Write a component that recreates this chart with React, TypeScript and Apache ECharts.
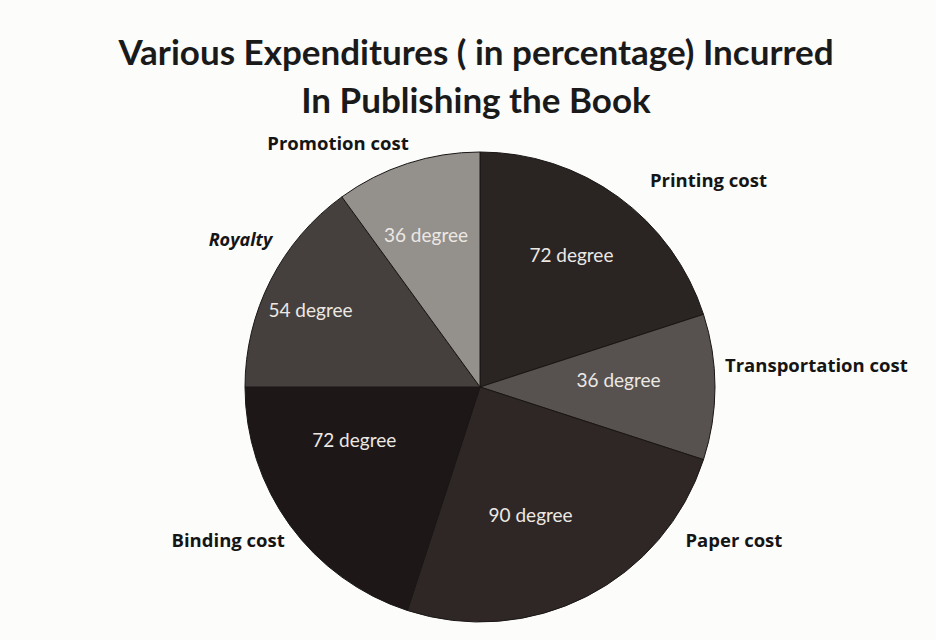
import React, { useEffect, useRef } from "react";
import * as echarts from "echarts";

const categories = [
  "Printing cost",
  "Transportation cost",
  "Paper cost",
  "Binding cost",
  "Royalty",
  "Promotion cost",
];
const degrees = [72, 36, 90, 72, 54, 36];
const sliceColors = ["#2a2523", "#57524f", "#2f2725", "#1d1717", "#45403e", "#94918c"];
const titleLines = ["Various Expenditures ( in percentage) Incurred", "In Publishing the Book"];
// nudges of the outside name labels relative to ECharts' default placement
const labelNudges: [number, number][] = [
  [13, -5],
  [-15, -23],
  [82, -70],
  [17, 6],
  [25, -35],
  [16, -7],
];
// nudges of the inside degree labels
const innerNudges: [number, number][] = [
  [0, -7],
  [-17, -8],
  [-20, -11],
  [0, -39],
  [-31, -7],
  [-6, -5],
];

export default function App() {
  const ref = useRef<HTMLDivElement>(null);
  useEffect(() => {
    if (!ref.current) return;
    const chart = echarts.init(ref.current, null, { renderer: "svg" });
    const data = categories.map((name, i) => ({
      name,
      value: degrees[i],
      itemStyle: { color: sliceColors[i] },
    }));
    chart.setOption({
      animation: false,
      backgroundColor: "#fcfcfb",
      graphic: [
        {
          type: "text",
          x: 476,
          y: 27,
          style: {
            text: titleLines.join("\n"),
            textAlign: "center",
            font: "bold 35px Lato",
            lineHeight: 48,
            fill: "#1a1a1a",
          },
        },
      ],
      series: [
        {
          type: "pie",
          center: [480, 387],
          radius: [0, 235],
          startAngle: 90,
          clockwise: true,
          silent: true,
          data,
          itemStyle: { borderColor: "#1a1616", borderWidth: 1 },
          label: {
            show: true,
            position: "outside",
            formatter: (p: any) => (p.name === "Royalty" ? `{i|${p.name}}` : p.name),
            fontFamily: "Open Sans",
            fontWeight: "bold",
            fontSize: 18.5,
            color: "#151515",
            rich: {
              i: {
                fontFamily: "Open Sans",
                fontWeight: "bold",
                fontStyle: "italic",
                fontSize: 18,
                color: "#151515",
              },
            },
          },
          labelLine: { show: false, length: 15, length2: 5 },
          labelLayout: (params: any) => {
            const n = labelNudges[params.dataIndex];
            return { dx: n[0], dy: n[1] };
          },
        },
        {
          type: "pie",
          center: [480, 387],
          radius: [70, 235],
          startAngle: 90,
          clockwise: true,
          silent: true,
          data: categories.map((name, i) => ({ name, value: degrees[i] })),
          itemStyle: { color: "rgba(0,0,0,0)", borderWidth: 0 },
          label: {
            show: true,
            position: "inside",
            formatter: (p: any) => `${p.value} degree`,
            fontFamily: "Lato",
            fontSize: 19,
            color: "#ece8e4",
          },
          labelLine: { show: false },
          labelLayout: (params: any) => {
            const n = innerNudges[params.dataIndex];
            return { dx: n[0], dy: n[1] };
          },
        },
      ],
    });
    return () => chart.dispose();
  }, []);
  return (
    <div
      ref={ref}
      style={{ position: "fixed", left: 0, top: 0, width: 936, height: 640 }}
    />
  );
}
